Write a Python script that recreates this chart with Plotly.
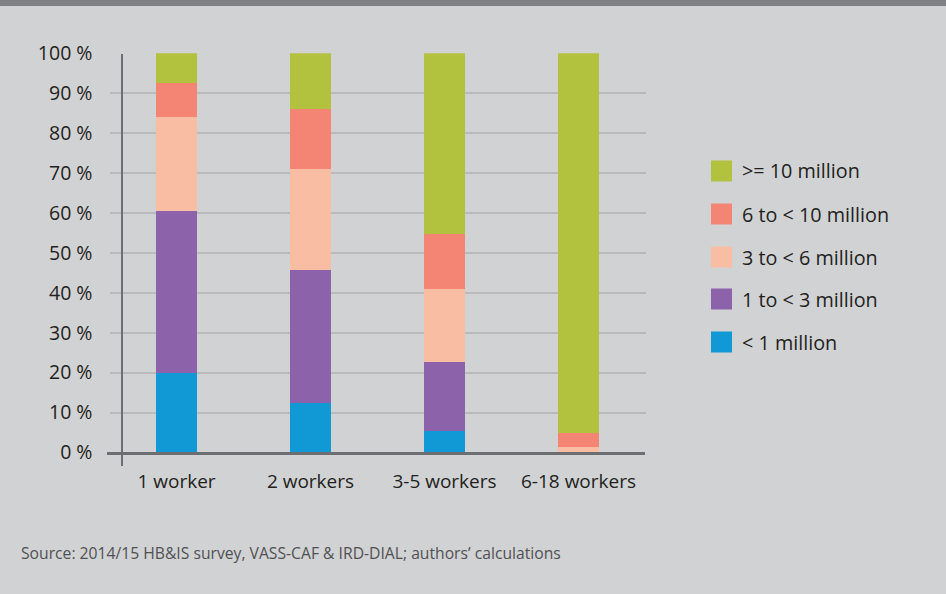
import plotly.graph_objects as go

categories = ["1 worker", "2 workers", "3-5 workers", "6-18 workers"]
series_names = ["< 1 million", "1 to < 3 million", "3 to < 6 million", "6 to < 10 million", ">= 10 million"]
lt1 = [20.0, 12.4, 5.4, 0.0]
m1to3 = [40.5, 33.3, 17.3, 0.0]
m3to6 = [23.6, 25.4, 18.3, 1.4]
m6to10 = [8.5, 15.0, 13.8, 3.4]
ge10 = [7.4, 13.9, 45.2, 95.2]
colors = ["#1199d6", "#8c63aa", "#f9bda4", "#f48574", "#b2c23e"]
y_ticks = [0, 10, 20, 30, 40, 50, 60, 70, 80, 90, 100]
y_tick_labels = ["0 %", "10 %", "20 %", "30 %", "40 %", "50 %", "60 %", "70 %", "80 %", "90 %", "100 %"]
source = "Source: 2014/15 HB&IS survey, VASS-CAF & IRD-DIAL; authors’ calculations"

W, H = 946, 594
BG = "#d1d2d4"
FONT = "Open Sans, Noto Sans, sans-serif"
TXT = "#231f20"

fig = go.Figure()
for name, vals, col in zip(series_names, [lt1, m1to3, m3to6, m6to10, ge10], colors):
    fig.add_trace(go.Bar(x=categories, y=vals, name=name, marker=dict(color=col, line=dict(width=0)),
                         width=0.306, showlegend=False, hoverinfo="skip"))

def px_x(p):
    return p / W

def px_y(p):
    return 1 - p / H

fig.update_layout(
    template="none",
    width=W, height=H, barmode="stack", autosize=False,
    paper_bgcolor=BG, plot_bgcolor=BG,
    margin=dict(l=0, r=0, t=0, b=0, pad=0),
    font=dict(family=FONT, color=TXT, size=18),
    xaxis=dict(domain=[px_x(109.5), px_x(645.5)], range=[-0.5, 3.5], showgrid=False,
               zeroline=False, showline=False, ticks="", ticklabelstandoff=15, automargin=False,
               tickfont=dict(size=19, color=TXT)),
    yaxis=dict(domain=[px_y(452.5), px_y(53.3)], range=[0, 100], tickmode="array",
               tickvals=y_ticks, ticktext=y_tick_labels,
               showgrid=True, gridcolor="#b9babc", gridwidth=2, automargin=False,
               zeroline=False, showline=False, ticks="", ticklabelstandoff=16,
               tickfont=dict(size=19.5, color=TXT)),
)

shapes = []
shapes.append(dict(type="rect", xref="paper", yref="paper", x0=0, x1=1, y0=px_y(6), y1=1,
                   fillcolor="#808184", line=dict(width=0), layer="above"))
shapes.append(dict(type="line", xref="paper", yref="paper", x0=px_x(107), x1=px_x(645),
                   y0=px_y(453.5), y1=px_y(453.5), line=dict(color="#6d6e71", width=3), layer="above"))
shapes.append(dict(type="line", xref="paper", yref="paper", x0=px_x(122), x1=px_x(122),
                   y0=px_y(466), y1=px_y(54), line=dict(color="#6d6e71", width=2), layer="above"))

annotations = []
legend_y = [342, 299, 257, 214, 171]
for name, col, yc in zip(series_names, colors, legend_y):
    shapes.append(dict(type="rect", xref="paper", yref="paper", x0=px_x(711), x1=px_x(732),
                       y0=px_y(yc + 10.5), y1=px_y(yc - 10.5), fillcolor=col, line=dict(width=0)))
    annotations.append(dict(text=name, xref="paper", yref="paper", x=px_x(740), y=px_y(yc),
                            xanchor="left", yanchor="middle", showarrow=False,
                            font=dict(size=19.8, color=TXT, family=FONT)))

annotations.append(dict(text=source, xref="paper", yref="paper", x=px_x(19), y=px_y(553),
                        xanchor="left", yanchor="middle", showarrow=False,
                        font=dict(size=15.7, color="#505153", family=FONT)))

fig.update_layout(shapes=shapes, annotations=annotations)
fig.write_html("out.html", config={"displayModeBar": False},
               post_script="document.body.style.margin='0';document.body.style.overflow='hidden';")
